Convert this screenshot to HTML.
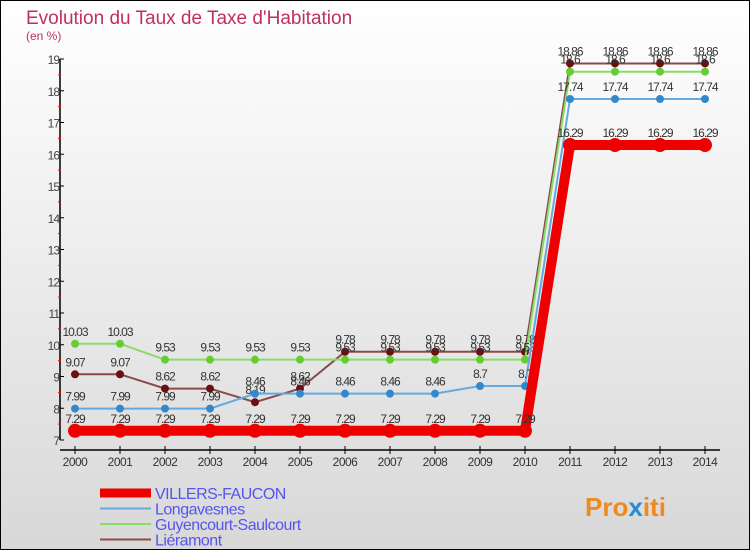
<!DOCTYPE html>
<html><head><meta charset="utf-8"><style>
html,body{margin:0;padding:0}
body{width:750px;height:550px;overflow:hidden;font-family:"Liberation Sans",sans-serif}
</style></head><body>
<svg width="750" height="550" xmlns="http://www.w3.org/2000/svg">
<defs><linearGradient id="bg" x1="0" y1="0" x2="0" y2="1"><stop offset="0" stop-color="#ffffff"/><stop offset="1" stop-color="#d8d8d8"/></linearGradient></defs>
<rect x="0.5" y="0.5" width="749" height="549" fill="url(#bg)" stroke="#000"/>
<text x="26" y="24" font-size="19" fill="#c0305a">Evolution du Taux de Taxe d'Habitation</text>
<text x="26" y="40" font-size="12" fill="#c0305a">(en %)</text>
<g id="axes"></g>
<g id="series"></g>
<g id="legend"></g>
<text x="585" y="516" font-size="26" font-weight="bold" fill="#f08a20">Pro<tspan fill="#2a8ad0">x</tspan>iti</text>
</svg>
<script>
const years=[2000,2001,2002,2003,2004,2005,2006,2007,2008,2009,2010,2011,2012,2013,2014];
const villers=[7.29,7.29,7.29,7.29,7.29,7.29,7.29,7.29,7.29,7.29,7.29,16.29,16.29,16.29,16.29];
const longa=[7.99,7.99,7.99,7.99,8.46,8.46,8.46,8.46,8.46,8.7,8.7,17.74,17.74,17.74,17.74];
const guyen=[10.03,10.03,9.53,9.53,9.53,9.53,9.53,9.53,9.53,9.53,9.53,18.6,18.6,18.6,18.6];
const liera=[9.07,9.07,8.62,8.62,8.19,8.62,9.78,9.78,9.78,9.78,9.78,18.86,18.86,18.86,18.86];
const yTicks=[7,8,9,10,11,12,13,14,15,16,17,18,19];
const NS="http://www.w3.org/2000/svg";
const xS=i=>75+i*45;
const yS=v=>440-(v-7)*31.75;
function mk(tag,attrs,parent){const e=document.createElementNS(NS,tag);for(const k in attrs)e.setAttribute(k,attrs[k]);parent.appendChild(e);return e;}
const ax=document.getElementById('axes');
let l=mk('line',{x1:60,y1:yS(19),x2:60,y2:yS(7),stroke:'#000','stroke-width':1.5},ax);


l=mk('line',{x1:60,y1:450,x2:720,y2:450,stroke:'#000','stroke-width':1.5},ax);


yTicks.forEach(v=>{
 mk('line',{x1:60,x2:64,y1:yS(v),y2:yS(v),stroke:'#000'},ax);
 if(v<19){mk('line',{x1:58,x2:61,y1:yS(v+0.5),y2:yS(v+0.5),stroke:'#f00'},ax);}
 const t=mk('text',{x:59,y:yS(v)+5,'text-anchor':'end','font-size':12,fill:'#444','letter-spacing':'-1'},ax);
 t.textContent=v;
 
 
});
years.forEach((y,i)=>{
 mk('line',{x1:xS(i),x2:xS(i),y1:446,y2:454,stroke:'#000'},ax);
 const t=mk('text',{x:xS(i),y:466,'text-anchor':'middle','font-size':12,fill:'#333','letter-spacing':'-0.5'},ax);
 t.textContent=y;
 
 
});
const sg=document.getElementById('series');
const defs=[
 {d:liera,c:'#8a4a4a',p:'#6a1010',w:2,r:4,n:'lieramont'},
 {d:guyen,c:'#88dd66',p:'#66cc33',w:2,r:4,n:'guyencourt-saulcourt'},
 {d:longa,c:'#66aadd',p:'#3388cc',w:2,r:4,n:'longavesnes'},
 {d:villers,c:'#ee0000',p:'#ee0000',w:10,r:7,n:'villers-faucon'}];
defs.forEach(s=>{
 const g=mk('g',{},sg);
 
 
 const pts=s.d.map((v,i)=>xS(i)+','+yS(v)).join(' ');
 mk('polyline',{points:pts,fill:'none',stroke:s.c,'stroke-width':s.w},g);
 s.d.forEach((v,i)=>{
  const c=mk('circle',{cx:xS(i),cy:yS(v),r:s.r,fill:s.p},g);
  
  
  const t=mk('text',{x:xS(i),y:yS(v)-8,'text-anchor':'middle','font-size':12,fill:'#333','letter-spacing':'-1'},g);
  t.textContent=String(v);
  
  
 });
});
const lg=document.getElementById('legend');
const leg=[['VILLERS-FAUCON','#ee0000',9],['Longavesnes','#66aadd',2],['Guyencourt-Saulcourt','#88dd66',2],['Liéramont','#8a4a4a',2]];
leg.forEach((e,i)=>{
 const y=493+i*15.5;
 const g=mk('g',{},lg);
 
 
 mk('line',{x1:100,x2:151,y1:y,y2:y,stroke:e[1],'stroke-width':e[2]},g);
 const t=mk('text',{x:155,y:y+6,'font-size':16,fill:'#5555ee','letter-spacing':'-0.5'},g);
 t.textContent=e[0];
});
</script>
</body></html>
